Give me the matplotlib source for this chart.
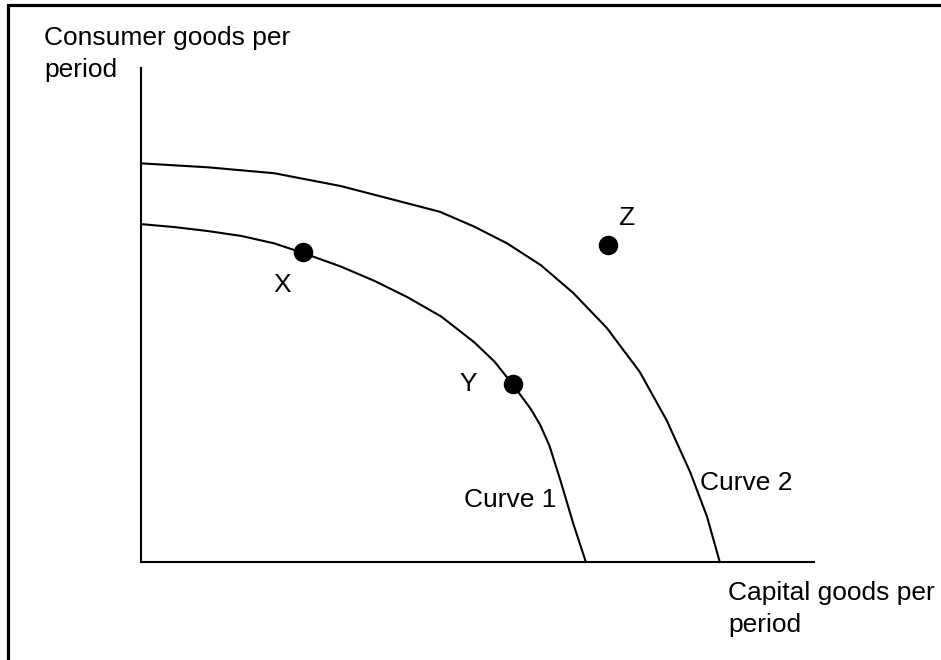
import matplotlib
matplotlib.use('Agg')
import matplotlib.pyplot as plt
from matplotlib.patches import Rectangle

plt.rcParams['font.family'] = ['Liberation Sans', 'DejaVu Sans']

# curves (x: capital goods, y: consumer goods, 0-100 scale)
curve1_x = [0, 4.95, 9.9, 14.9, 19.8, 24.0, 29.7, 34.7, 39.6, 44.6, 49.5, 52.5,
            55.2, 57.9, 59.3, 60.7, 62.3, 64.2, 66.1]
curve1_y = [68.4, 67.8, 67.0, 66.0, 64.5, 62.6, 59.8, 56.9, 53.6, 49.7, 44.5, 40.6,
            36.0, 31.0, 27.8, 23.5, 16.6, 7.9, 0]
curve2_x = [0, 9.9, 19.8, 29.7, 39.6, 44.4, 49.5, 54.4, 59.4, 64.2, 69.2, 74.1,
            78.1, 81.6, 84.1, 86.0]
curve2_y = [80.7, 79.9, 78.7, 76.1, 72.6, 70.9, 67.9, 64.5, 60.1, 54.5, 47.4, 38.5,
            28.7, 18.2, 9.2, 0]

# points X, Y, Z
point_names = ['X', 'Y', 'Z']
point_x = [24.1, 55.3, 69.4]
point_y = [62.8, 36.0, 64.2]
label_offsets = [(-15, -24), (-32, 0), (13, 19)]

curve_names = ['Curve 1', 'Curve 2']
curve_label_x = [54.9, 90.0]
curve_label_y = [12.6, 16.0]

W, H = 941, 660
fig = plt.figure(figsize=(W / 100, H / 100), dpi=100)

# outer frame (cut off at right and bottom in the original)
fig.add_artist(Rectangle((8.3 / W, -0.5), 2, 1.5 - 4.7 / H, transform=fig.transFigure,
                         fill=False, lw=2.3, ec='black'))

ax = fig.add_axes([141 / W, (H - 562) / H, 673 / W, 494 / H])
ax.set_xlim(0, 100)
ax.set_ylim(0, 100)
for s in ['top', 'right']:
    ax.spines[s].set_visible(False)
for s in ['left', 'bottom']:
    ax.spines[s].set_linewidth(1.5)
ax.set_xticks([])
ax.set_yticks([])
ax.patch.set_alpha(0)

ax.plot(curve1_x, curve1_y, color='black', lw=1.5, clip_on=False, solid_joinstyle='round')
ax.plot(curve2_x, curve2_y, color='black', lw=1.5, clip_on=False, solid_joinstyle='round')
ax.scatter(point_x, point_y, s=170, color='black', zorder=3, clip_on=False)

for name, x, y, off in zip(point_names, point_x, point_y, label_offsets):
    ax.annotate(name, (x, y), xytext=off, textcoords='offset points',
                ha='center', va='center', fontsize=19)

for name, x, y in zip(curve_names, curve_label_x, curve_label_y):
    ax.text(x, y, name, ha='center', va='center', fontsize=19)

# axis titles (va='baseline' pins the last line)
fig.text(44 / W, 1 - 77 / H, 'Consumer goods per\nperiod', fontsize=19,
         ha='left', va='baseline', linespacing=1.42)
fig.text(728 / W, 1 - 632 / H, 'Capital goods per\nperiod', fontsize=19,
         ha='left', va='baseline', linespacing=1.42)

fig.savefig('out.png', dpi=100)
